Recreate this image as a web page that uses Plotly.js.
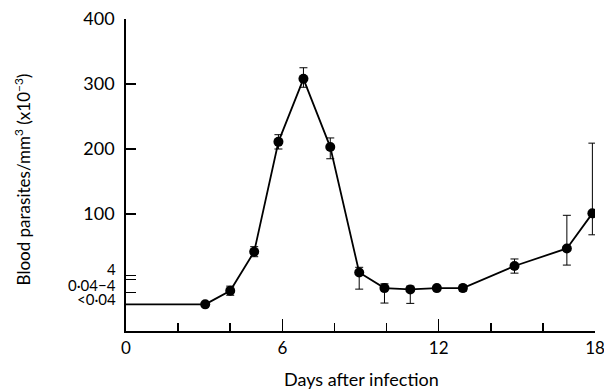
<!DOCTYPE html>
<html><head><meta charset="utf-8">
<script src="https://cdn.plot.ly/plotly-3.0.1.min.js"></script>
<style>html,body{margin:0;padding:0;background:#fff}#chart{width:604px;height:392px}</style>
</head><body><div id="chart"></div>
<script>
// Data (y in plotted units: 0..400 linear, bottom band compressed)
const days      = [3.04, 4.0, 4.92, 5.85, 6.81, 7.84, 8.95, 9.92, 10.91, 11.93, 12.93, 14.91, 16.92, 17.90];
const parasites = [-39, -18, 42, 211, 308, 203, 10, -14, -16, -14, -14, 20, 47, 101];
const errUp     = [0, 7, 7.7, 11, 17, 14, 8, 6.6, 5, 0, 4.6, 10.8, 51, 108];
const errDown   = [0, 7, 7.7, 11, 13, 18, 25.6, 23, 21.5, 0, 4.6, 11, 25.6, 33];
const baselineDays = [0, 3.04];
const baselineVals = [-39, -39];

const yTickVals = [400, 300, 200, 100, 5.1, -0.5, -21];
const yTickText = ['400', '300', '200', '100', '', '', ''];
const lowLabels = ['4', '0\u00b704\u22124', '<0\u00b704'];
const lowLabelVals = [15, -9.5, -30.5];
const xTickVals = [0, 6, 12, 18];
const xTickText = ['0', '6', '12', '18'];
const xMinorVals = [2, 4, 8, 10, 14, 16];

const FONT = 'Lato, "DejaVu Sans", sans-serif';

const traces = [
  {x: baselineDays, y: baselineVals, mode: 'lines', line: {color: '#000', width: 1.6}, hoverinfo: 'skip'},
  {x: days, y: parasites, mode: 'lines+markers',
   line: {color: '#000', width: 1.8},
   marker: {color: '#000', size: 10},
   error_y: {type: 'data', symmetric: false, array: errUp, arrayminus: errDown, color: '#000', thickness: 1, width: 4}}
];

const annotations = lowLabels.map((t, i) => ({
  text: t, xref: 'paper', yref: 'y', x: -0.017, y: lowLabelVals[i], xanchor: 'right', yanchor: 'middle',
  showarrow: false, font: {family: FONT, size: 15, color: '#000'}
}));
annotations.push({
  text: 'Blood parasites/mm<sup>3</sup> (x10<sup>\u22123</sup>)', xref: 'paper', yref: 'paper',
  x: -0.221, y: 0.487, xanchor: 'center', yanchor: 'middle', textangle: -90, showarrow: false,
  font: {family: FONT, size: 17, color: '#000'}
});
annotations.push({
  text: 'Days after infection', xref: 'paper', yref: 'paper',
  x: 0.503, y: -0.153, xanchor: 'center', yanchor: 'middle', showarrow: false,
  font: {family: FONT, size: 18, color: '#000'}
});

const layout = {
  width: 604, height: 392,
  margin: {l: 126, r: 9, t: 19, b: 61},
  paper_bgcolor: '#fff', plot_bgcolor: '#fff',
  showlegend: false,
  xaxis: {range: [0, 18], tickmode: 'array', tickvals: xTickVals, ticktext: xTickText,
    ticks: 'inside', ticklen: 12, tickwidth: 1.5, tickcolor: '#000',
    minor: {tickmode: 'array', tickvals: xMinorVals, ticks: 'inside', ticklen: 8, tickwidth: 1.5, tickcolor: '#000'},
    showline: true, linecolor: '#000', linewidth: 1.8, showgrid: false, zeroline: false,
    ticklabeloverflow: 'allow',
    tickfont: {family: FONT, size: 17, color: '#000'}, ticklabelstandoff: 1, fixedrange: true},
  yaxis: {range: [-80, 400], tickmode: 'array', tickvals: yTickVals, ticktext: yTickText,
    ticks: 'inside', ticklen: 10, tickwidth: 1.5, tickcolor: '#000',
    showline: true, linecolor: '#000', linewidth: 1.8, showgrid: false, zeroline: false,
    tickfont: {family: FONT, size: 18, color: '#000'}, ticklabelstandoff: 6, fixedrange: true},
  annotations: annotations
};

Plotly.newPlot('chart', traces, layout, {displayModeBar: false, staticPlot: true});
</script></body></html>
